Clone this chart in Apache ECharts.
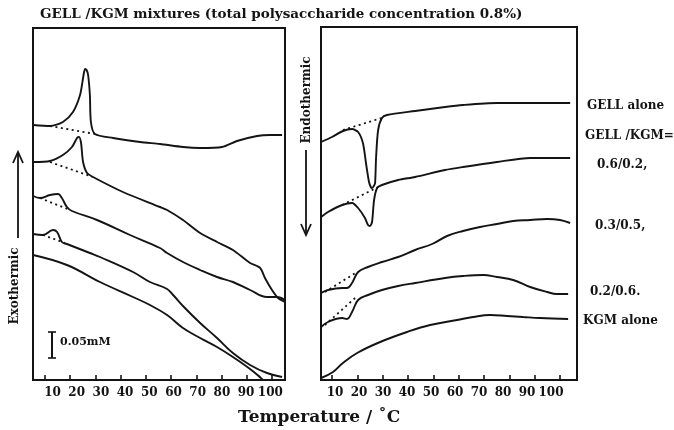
<!DOCTYPE html>
<html>
<head>
<meta charset="utf-8">
<script src="https://cdn.jsdelivr.net/npm/echarts@6/dist/echarts.min.js"></script>
<style>
  html, body { margin: 0; padding: 0; background: #fff; }
  #chart { width: 674px; height: 430px; }
</style>
</head>
<body>
<div id="chart"></div>
<script>
// DSC traces of GELL/KGM mixtures; temperature in °C, signal in arbitrary offset units
const tempTicks = [10, 20, 30, 40, 50, 60, 70, 80, 90, 100];

// Cooling runs (exothermic up)
const coolGell = [[5.3,255],[12.0,254],[17.1,258],[21.1,268],[23.9,285],[25.1,302],[25.5,308],[25.9,311],[26.5,310],[27.1,305],[27.8,285],[28.2,258],[29.8,246],[37.0,242],[47.7,238],[55.6,236],[64.7,233],[71.5,232],[80.2,233],[86.1,239],[94.1,244],[99.2,245],[104.0,245]];
const coolGellBase = [[12.0,254],[29.8,246]];
const cool62 = [[5.3,218],[12.0,219],[17.1,225],[20.7,233],[22.7,242],[23.5,243],[24.3,237],[25.1,218],[26.7,207],[29.8,202],[40.9,188],[55.6,173],[58.4,170],[64.7,160],[71.5,147],[78.2,138],[84.5,130],[91.3,117],[95.3,112],[97.2,102],[100.0,90],[102.4,82],[105.1,78]];
const cool62Base = [[12.0,218],[29.0,203]];
const cool35 = [[5.3,184],[8.0,182],[12.0,185],[15.2,186],[16.7,182],[18.7,173],[20.7,169],[30.6,160],[43.7,145],[55.6,132],[58.4,127],[64.7,118],[71.5,110],[78.2,103],[84.5,98],[91.3,90],[98.0,83],[102.0,83],[105.1,80]];
const cool35Base = [[8.0,182],[19.9,170]];
const cool26 = [[5.3,146],[9.2,145],[13.2,150],[14.8,148],[16.7,138],[18.7,136],[27.8,127],[31.8,123],[44.9,108],[51.6,98],[58.4,91],[60.8,85],[64.7,74],[71.5,57],[78.2,42],[84.5,27],[91.3,15],[98.0,7],[104.0,3]];
const cool26Base = [[9.2,145],[17.9,137]];
const coolKgm = [[5.3,125],[18.7,115],[31.8,98],[44.9,83],[51.6,75],[58.4,65],[64.7,52],[71.5,42],[78.2,33],[84.5,23],[91.3,11],[95.6,2],[96.4,0]];

// Heating runs (endothermic down)
const heatGell = [[5.7,238],[10.0,243],[14.3,249],[17.9,251],[20.3,248],[22.2,237],[23.4,217],[24.6,198],[25.3,193],[25.8,192],[26.5,194],[27.0,197],[27.4,223],[28.2,250],[29.7,262],[31.7,265],[42.8,269],[54.6,273],[61.7,275],[75.1,277],[88.2,277],[104.0,277]];
const heatGellBase = [[14.3,250],[30.9,263]];
const heat62 = [[5.7,163],[8.4,168],[14.0,175],[17.9,177],[20.3,172],[23.0,162],[24.2,155],[25.0,154],[25.8,158],[26.6,180],[27.8,192],[29.7,195],[36.1,200],[42.8,203],[54.6,210],[61.7,213],[75.1,218],[88.2,222],[104.0,222]];
const heat62Base = [[14.0,175],[28.2,193]];
const heat35 = [[5.7,87],[8.4,90],[14.0,92],[15.9,92],[17.9,97],[20.3,108],[24.2,113],[29.7,118],[36.1,123],[42.8,130],[49.5,136],[55.4,144],[61.7,149],[68.4,153],[75.1,156],[81.5,159],[88.2,160],[94.9,161],[100.0,160],[104.0,157]];
const heat35Base = [[7.2,88],[19.9,108]];
const heat26 = [[5.7,53],[8.4,58],[14.0,62],[15.9,61],[17.9,68],[20.3,80],[24.2,85],[29.7,90],[36.1,94],[42.8,97],[54.6,102],[61.7,104],[69.6,105],[75.1,103],[81.5,100],[88.2,93],[94.9,88],[98.8,86],[103.2,86]];
const heat26Base = [[7.2,55],[19.1,82]];
const heatKgm = [[5.7,2],[10.4,8],[14.3,17],[19.9,27],[29.0,38],[39.6,48],[48.7,55],[59.4,60],[65.7,63],[72.4,65],[79.1,64],[85.4,63],[92.1,62],[103.2,61]];

const traceLabels = ['GELL alone', 'GELL /KGM=', '0.6/0.2,', '0.3/0.5,', '0.2/0.6.', 'KGM alone'];

const INK = '#141414';
const SERIF = '"DejaVu Serif", serif';

function trace(data, axis, sharp) {
  return {
    type: 'line', data: data, xAxisIndex: axis, yAxisIndex: axis === 0 ? 0 : 1,
    showSymbol: false, smooth: sharp ? 0.25 : 0.4,
    silent: true, lineStyle: { color: INK, width: 1.9 }
  };
}
function baseline(data, axis) {
  return {
    type: 'line', data: data, xAxisIndex: axis, yAxisIndex: axis === 0 ? 0 : 1,
    showSymbol: false, silent: true,
    lineStyle: { color: INK, width: 1.8, type: [2, 3.5] }
  };
}
function tickAxis(grid, min, max) {
  return {
    type: 'value', gridIndex: grid, min: min, max: max, position: 'bottom',
    axisLine: { show: false }, splitLine: { show: false },
    axisTick: { show: true, inside: true, length: 5, customValues: tempTicks,
                lineStyle: { color: INK, width: 1.6 } },
    axisLabel: { show: false }
  };
}
function labelAxis(grid, min, max) {
  return {
    type: 'value', gridIndex: grid, min: min, max: max, position: 'bottom',
    axisLine: { show: false }, splitLine: { show: false }, axisTick: { show: false },
    axisLabel: { show: true, customValues: tempTicks, margin: 7, color: INK,
                 fontFamily: SERIF, fontWeight: 'bold', fontSize: 12 }
  };
}

const chart = echarts.init(document.getElementById('chart'), null, { renderer: 'canvas' });

const sideText = (txt, x, y, size) => ({
  type: 'text', left: x, top: y - size * 0.6,
  style: { text: txt, fill: INK, font: 'bold ' + size + 'px ' + SERIF }
});

chart.setOption({
  animation: false,
  backgroundColor: '#fff',
  title: {
    text: 'GELL /KGM mixtures (total polysaccharide concentration 0.8%)',
    left: 35, top: 2,
    textStyle: { fontFamily: SERIF, fontWeight: 'bold', fontSize: 13.5, color: INK }
  },
  grid: [
    { left: 33, top: 28, width: 252, height: 352, show: true, borderColor: INK, borderWidth: 2 },
    { left: 321, top: 27, width: 256, height: 353, show: true, borderColor: INK, borderWidth: 2 }
  ],
  xAxis: [
    tickAxis(0, 5.25, 105.15),
    tickAxis(1, 5.65, 106.7),
    labelAxis(0, 1.94, 106.07),
    labelAxis(1, 4.17, 110.83)
  ],
  yAxis: [
    { type: 'value', gridIndex: 0, min: 0, max: 352, show: false },
    { type: 'value', gridIndex: 1, min: 0, max: 353, show: false }
  ],
  series: [
    trace(coolGell, 0, true), baseline(coolGellBase, 0),
    trace(cool62, 0, true), baseline(cool62Base, 0),
    trace(cool35, 0), baseline(cool35Base, 0),
    trace(cool26, 0), baseline(cool26Base, 0),
    trace(coolKgm, 0),
    trace(heatGell, 1, true), baseline(heatGellBase, 1),
    trace(heat62, 1, true), baseline(heat62Base, 1),
    trace(heat35, 1), baseline(heat35Base, 1),
    trace(heat26, 1), baseline(heat26Base, 1),
    trace(heatKgm, 1)
  ],
  graphic: [
    // Axis title
    { type: 'text', left: 238, top: 409,
      style: { text: 'Temperature / ˚C', fill: INK, font: 'bold 17px ' + SERIF } },
    // Exothermic arrow (left panel)
    { type: 'line', shape: { x1: 18, y1: 238, x2: 18, y2: 152 }, style: { stroke: INK, lineWidth: 1.8 } },
    { type: 'polyline', shape: { points: [[13, 163], [18, 152], [23, 163]] }, style: { stroke: INK, lineWidth: 1.8, fill: null } },
    { type: 'text', x: 15, y: 286, rotation: Math.PI / 2,
      style: { text: 'Exothermic', fill: INK, font: 'bold 12px ' + SERIF, align: 'center', verticalAlign: 'middle' } },
    // Endothermic arrow (right panel)
    { type: 'text', x: 307, y: 100, rotation: Math.PI / 2,
      style: { text: 'Endothermic', fill: INK, font: 'bold 12px ' + SERIF, align: 'center', verticalAlign: 'middle' } },
    { type: 'line', shape: { x1: 306, y1: 150, x2: 306, y2: 235 }, style: { stroke: INK, lineWidth: 1.8 } },
    { type: 'polyline', shape: { points: [[301, 224], [306, 235], [311, 224]] }, style: { stroke: INK, lineWidth: 1.8, fill: null } },
    // 0.05 scale bar
    { type: 'line', shape: { x1: 52, y1: 332, x2: 52, y2: 358 }, style: { stroke: INK, lineWidth: 2 } },
    { type: 'line', shape: { x1: 48, y1: 332, x2: 56, y2: 332 }, style: { stroke: INK, lineWidth: 1.6 } },
    { type: 'line', shape: { x1: 48, y1: 358, x2: 56, y2: 358 }, style: { stroke: INK, lineWidth: 1.6 } },
    sideText('0.05mM', 60, 343, 11),
    // Trace labels
    sideText(traceLabels[0], 587, 107, 12),
    sideText(traceLabels[1], 585, 137, 12),
    sideText(traceLabels[2], 597, 166, 12),
    sideText(traceLabels[3], 595, 227, 12),
    sideText(traceLabels[4], 590, 293, 12),
    sideText(traceLabels[5], 583, 322, 12)
  ]
});
</script>
</body>
</html>
